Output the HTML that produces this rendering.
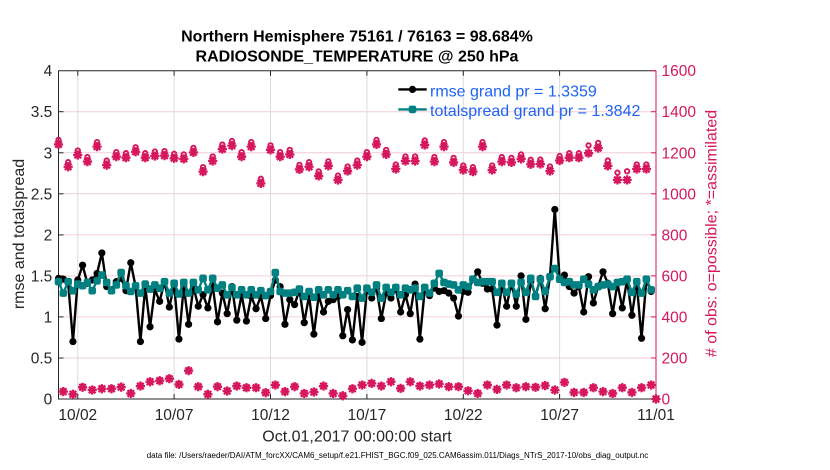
<!DOCTYPE html>
<html>
<head>
<meta charset="utf-8">
<style>
html,body{margin:0;padding:0;background:#fff;}
svg{display:block;font-family:"Liberation Sans",Arial,Helvetica,sans-serif;}
</style>
</head>
<body>
<svg id="c" width="830" height="470" viewBox="0 0 830 470" xmlns="http://www.w3.org/2000/svg">
<rect x="0" y="0" width="830" height="470" fill="#ffffff"/>
<!-- vertical grid -->
<g stroke="#DCDCDC" stroke-width="1">
<line x1="77.8" y1="70.7" x2="77.8" y2="399"/>
<line x1="174.1" y1="70.7" x2="174.1" y2="399"/>
<line x1="270.5" y1="70.7" x2="270.5" y2="399"/>
<line x1="366.9" y1="70.7" x2="366.9" y2="399"/>
<line x1="463.3" y1="70.7" x2="463.3" y2="399"/>
<line x1="559.6" y1="70.7" x2="559.6" y2="399"/>
</g>
<!-- horizontal grid -->
<g stroke="#F3CEDA" stroke-width="1">
<line x1="58.5" y1="358" x2="656" y2="358"/>
<line x1="58.5" y1="316.9" x2="656" y2="316.9"/>
<line x1="58.5" y1="275.9" x2="656" y2="275.9"/>
<line x1="58.5" y1="234.9" x2="656" y2="234.9"/>
<line x1="58.5" y1="193.8" x2="656" y2="193.8"/>
<line x1="58.5" y1="152.8" x2="656" y2="152.8"/>
<line x1="58.5" y1="111.7" x2="656" y2="111.7"/>
</g>
<!-- axes -->
<g stroke="#262626" stroke-width="1" fill="none">
<line x1="58.5" y1="70.7" x2="58.5" y2="399.5"/>
<line x1="58" y1="70.7" x2="656" y2="70.7"/>
<line x1="58" y1="399" x2="656" y2="399"/>
<line x1="58.5" y1="358" x2="63.5" y2="358"/>
<line x1="58.5" y1="316.9" x2="63.5" y2="316.9"/>
<line x1="58.5" y1="275.9" x2="63.5" y2="275.9"/>
<line x1="58.5" y1="234.9" x2="63.5" y2="234.9"/>
<line x1="58.5" y1="193.8" x2="63.5" y2="193.8"/>
<line x1="58.5" y1="152.8" x2="63.5" y2="152.8"/>
<line x1="58.5" y1="111.7" x2="63.5" y2="111.7"/>
<line x1="77.8" y1="399" x2="77.8" y2="394"/>
<line x1="174.1" y1="399" x2="174.1" y2="394"/>
<line x1="270.5" y1="399" x2="270.5" y2="394"/>
<line x1="366.9" y1="399" x2="366.9" y2="394"/>
<line x1="463.3" y1="399" x2="463.3" y2="394"/>
<line x1="559.6" y1="399" x2="559.6" y2="394"/>
<line x1="77.8" y1="70.7" x2="77.8" y2="75.7"/>
<line x1="174.1" y1="70.7" x2="174.1" y2="75.7"/>
<line x1="270.5" y1="70.7" x2="270.5" y2="75.7"/>
<line x1="366.9" y1="70.7" x2="366.9" y2="75.7"/>
<line x1="463.3" y1="70.7" x2="463.3" y2="75.7"/>
<line x1="559.6" y1="70.7" x2="559.6" y2="75.7"/>
</g>
<!-- right axis -->
<g stroke="#D5175E" stroke-width="1" fill="none">
<line x1="656" y1="70.7" x2="656" y2="399.5"/>
<line x1="651" y1="358" x2="656" y2="358"/>
<line x1="651" y1="316.9" x2="656" y2="316.9"/>
<line x1="651" y1="275.9" x2="656" y2="275.9"/>
<line x1="651" y1="234.9" x2="656" y2="234.9"/>
<line x1="651" y1="193.8" x2="656" y2="193.8"/>
<line x1="651" y1="152.8" x2="656" y2="152.8"/>
<line x1="651" y1="111.7" x2="656" y2="111.7"/>
<line x1="651" y1="70.7" x2="656" y2="70.7"/>
</g>

<g id="series"></g>

<!-- legend -->
<g>
<line x1="398.3" y1="89.4" x2="426.7" y2="89.4" stroke="#000" stroke-width="2.4"/>
<circle cx="412.5" cy="89.4" r="3.6" fill="#000"/>
<line x1="398.3" y1="109.4" x2="426.7" y2="109.4" stroke="#008080" stroke-width="2.4"/>
<rect x="408.7" y="105.6" width="7.6" height="7.6" rx="2.2" fill="#008080"/>
<text x="430" y="96.4" font-size="16" fill="#1E63F5">rmse grand pr = 1.3359</text>
<text x="430" y="116.2" font-size="16" fill="#1E63F5">totalspread grand pr = 1.3842</text>
</g>

<!-- title -->
<text x="357" y="41.7" font-size="16" font-weight="bold" text-anchor="middle" fill="#000">Northern Hemisphere 75161 / 76163 = 98.684%</text>
<text x="357" y="61.7" font-size="16" font-weight="bold" text-anchor="middle" fill="#000">RADIOSONDE_TEMPERATURE @ 250 hPa</text>

<!-- left tick labels -->
<g font-size="15.5" fill="#262626" text-anchor="end">
<text x="52.3" y="404.5">0</text>
<text x="52.3" y="363.5">0.5</text>
<text x="52.3" y="322.4">1</text>
<text x="52.3" y="281.4">1.5</text>
<text x="52.3" y="240.4">2</text>
<text x="52.3" y="199.3">2.5</text>
<text x="52.3" y="158.3">3</text>
<text x="52.3" y="117.2">3.5</text>
<text x="52.3" y="76.2">4</text>
</g>
<!-- right tick labels -->
<g font-size="15.5" fill="#D5175E" text-anchor="start">
<text x="661.5" y="404.5">0</text>
<text x="661.5" y="363.5">200</text>
<text x="661.5" y="322.4">400</text>
<text x="661.5" y="281.4">600</text>
<text x="661.5" y="240.4">800</text>
<text x="661.5" y="199.3">1000</text>
<text x="661.5" y="158.3">1200</text>
<text x="661.5" y="117.2">1400</text>
<text x="661.5" y="76.2">1600</text>
</g>
<!-- x tick labels -->
<g font-size="15.5" fill="#262626" text-anchor="middle">
<text x="77.8" y="420">10/02</text>
<text x="174.1" y="420">10/07</text>
<text x="270.5" y="420">10/12</text>
<text x="366.9" y="420">10/17</text>
<text x="463.3" y="420">10/22</text>
<text x="559.6" y="420">10/27</text>
<text x="656" y="420">11/01</text>
</g>
<!-- axis labels -->
<text transform="translate(24,234) rotate(-90)" font-size="16" text-anchor="middle" fill="#262626">rmse and totalspread</text>
<text transform="translate(716.5,233.5) rotate(-90)" font-size="16" text-anchor="middle" fill="#D5175E"># of obs: o=possible; *=assimilated</text>
<text x="357" y="441.5" font-size="16" text-anchor="middle" fill="#262626">Oct.01,2017 00:00:00 start</text>
<text x="146.7" y="458" font-size="8" fill="#000" textLength="501.5" lengthAdjust="spacingAndGlyphs">data file: /Users/raeder/DAI/ATM_forcXX/CAM6_setup/f.e21.FHIST_BGC.f09_025.CAM6assim.011/Diags_NTrS_2017-10/obs_diag_output.nc</text>
</svg>

<script>
(function(){
var NS="http://www.w3.org/2000/svg";
var g=document.getElementById('series');
function el(tag,attrs,parent){var e=document.createElementNS(NS,tag);for(var k in attrs)e.setAttribute(k,attrs[k]);(parent||g).appendChild(e);return e;}
function X(i){return 58.5+i*597.5/124;}
function Y(v){return 399-v*82.07;}
function YN(n){return 399-n*328.3/1600;}
var M="#D5175E";
var rm=[1.47,1.46,1.42,0.70,1.45,1.63,1.41,1.45,1.53,1.78,
1.37,1.33,1.43,1.47,1.32,1.66,1.37,0.70,1.37,0.88,
1.33,1.19,1.43,1.12,1.39,0.73,1.37,0.91,1.37,1.13,
1.27,1.11,1.38,0.94,1.29,1.04,1.37,0.96,1.27,0.95,
1.25,1.10,1.25,0.98,1.26,1.45,1.37,0.91,1.21,1.15,
1.33,0.93,1.26,0.79,1.26,1.06,1.19,1.21,1.25,0.77,
1.09,0.72,1.25,0.69,1.33,1.23,1.35,0.98,1.29,1.23,
1.34,1.06,1.27,1.04,1.40,0.73,1.33,1.26,1.35,1.31,
1.32,1.29,1.23,1.01,1.31,1.30,1.46,1.55,1.41,1.34,
1.34,0.90,1.39,1.13,1.41,1.13,1.50,0.97,1.43,1.26,
1.47,1.10,1.49,2.31,1.47,1.51,1.37,1.29,1.37,1.06,
1.49,1.17,1.37,1.55,1.41,1.04,1.41,1.11,1.45,1.02,
1.41,0.74,1.45,1.31];
var sp=[1.43,1.29,1.43,1.32,1.40,1.38,1.42,1.32,1.44,1.51,
1.42,1.32,1.39,1.54,1.38,1.31,1.38,1.29,1.40,1.34,
1.39,1.35,1.43,1.29,1.41,1.28,1.42,1.29,1.42,1.33,
1.47,1.33,1.47,1.35,1.39,1.27,1.36,1.27,1.33,1.27,
1.33,1.27,1.32,1.26,1.31,1.54,1.31,1.29,1.29,1.30,
1.34,1.25,1.31,1.24,1.33,1.27,1.33,1.27,1.33,1.27,
1.32,1.25,1.35,1.23,1.35,1.30,1.39,1.23,1.36,1.30,
1.36,1.27,1.35,1.33,1.35,1.25,1.36,1.29,1.41,1.53,
1.42,1.40,1.39,1.33,1.39,1.37,1.46,1.42,1.43,1.43,
1.43,1.30,1.41,1.30,1.41,1.28,1.42,1.30,1.47,1.25,
1.46,1.31,1.49,1.59,1.46,1.42,1.43,1.39,1.39,1.46,
1.40,1.33,1.37,1.39,1.40,1.37,1.42,1.43,1.46,1.30,
1.43,1.29,1.46,1.33];
var obs=[1250,36,1141,23,1198,57,1166,44,1239,50,
1149,50,1190,58,1185,27,1214,63,1185,84,
1193,89,1195,99,1182,71,1179,138,1211,60,
1117,23,1169,60,1227,39,1244,63,1190,55,
1239,55,1060,31,1223,68,1190,36,1201,60,
1128,27,1141,34,1096,63,1145,27,1076,16,
1120,50,1149,68,1190,76,1250,63,1201,84,
1130,52,1169,84,1169,63,1247,68,1166,73,
1239,60,1162,60,1125,40,1117,27,1239,68,
1125,47,1166,68,1162,55,1179,60,1153,57,
1154,65,1120,44,1171,81,1185,32,1185,32,
1198,55,1223,36,1136,27,1068,55,1068,32,
1130,55,1130,68,0];
var special={110:[1198,1236],112:[1223,1248],114:[1136,1162],116:[1068,1103],118:[1068,1110]};
var ast="M-4.6,0H4.6M0,-4.6V4.6M-3.3,-3.3L3.3,3.3M-3.3,3.3L3.3,-3.3";
var go=el('g',{});
for(var i=0;i<obs.length;i++){
  var n=obs[i],a,p;
  if(special[i]){a=special[i][0];p=special[i][1];}
  else if(n>500){a=n-9;p=n+13;}
  else {a=n;p=n+3;}
  var x=X(i);
  el('path',{d:ast,transform:'translate('+x.toFixed(2)+','+YN(a).toFixed(2)+')',stroke:M,'stroke-width':2.3,fill:'none'},go);
  el('circle',{cx:x.toFixed(2),cy:YN(p).toFixed(2),r:2.2,stroke:M,'stroke-width':1.9,fill:'none'},go);
}
function series(arr,color,square){
  var pts=[];
  for(var i=0;i<arr.length;i++)pts.push(X(i).toFixed(2)+','+Y(arr[i]).toFixed(2));
  var gs=el('g',{});
  el('polyline',{points:pts.join(' '),fill:'none',stroke:color,'stroke-width':2.4,'stroke-linejoin':'round'},gs);
  for(var j=0;j<arr.length;j++){
    var x=X(j),y=Y(arr[j]);
    if(square) el('rect',{x:(x-3.8).toFixed(2),y:(y-3.8).toFixed(2),width:7.6,height:7.6,rx:2.2,fill:color},gs);
    else el('circle',{cx:x.toFixed(2),cy:y.toFixed(2),r:3.6,fill:color},gs);
  }
}
series(rm,'#000000',false);
series(sp,'#008080',true);
})();
</script>
</body>
</html>
